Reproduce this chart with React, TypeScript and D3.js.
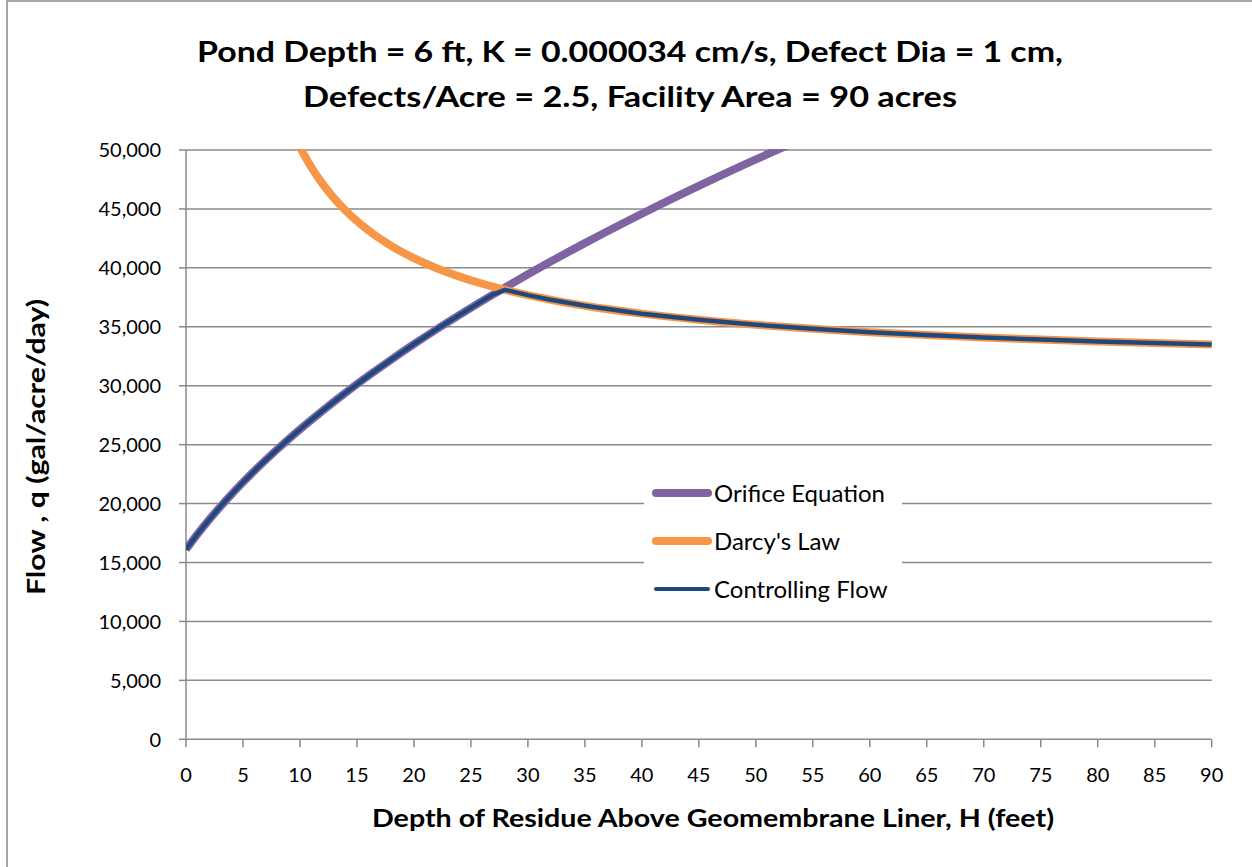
import React from "react";
import * as d3 from "d3";

const titleLines = [
  "Pond Depth = 6 ft, K = 0.000034 cm/s, Defect Dia = 1 cm,",
  "Defects/Acre = 2.5, Facility Area = 90 acres",
];
const xTitle = "Depth of Residue Above Geomembrane Liner, H (feet)";
const yTitle = "Flow , q (gal/acre/day)";

const depthH = [0, 1, 2, 3, 4, 5, 6, 7, 8, 9, 10, 11, 12, 14, 16, 18, 20, 22, 24, 26, 27, 28, 30, 32, 35, 40, 45, 50, 55, 60, 65, 70, 75, 80, 85, 90];
const orifice: (number | null)[] = [16106, 17396, 18597, 19725, 20792, 21807, 22776, 23706, 24601, 25465, 26300, 27109, 27895, 29404, 30839, 32211, 33526, 34792, 36013, 37194, 37771, 38339, 39450, 40531, 42100, 44594, 46955, 49203, 51352, null, null, null, null, null, null, null];
const darcy: (number | null)[] = [null, null, null, null, null, null, null, null, 54957, 52340, 50246, 48533, 47106, 44863, 43181, 41872, 40825, 39968, 39255, 38651, 38383, 38134, 37685, 37293, 36788, 36115, 35591, 35172, 34830, 34544, 34303, 34096, 33916, 33759, 33621, 33498];
const controlling = [16106, 17396, 18597, 19725, 20792, 21807, 22776, 23706, 24601, 25465, 26300, 27109, 27895, 29404, 30839, 32211, 33526, 34792, 36013, 37194, 37771, 38134, 37685, 37293, 36788, 36115, 35591, 35172, 34830, 34544, 34303, 34096, 33916, 33759, 33621, 33498];

const xTicks = [0, 5, 10, 15, 20, 25, 30, 35, 40, 45, 50, 55, 60, 65, 70, 75, 80, 85, 90];
const yTicks = [0, 5000, 10000, 15000, 20000, 25000, 30000, 35000, 40000, 45000, 50000];

const seriesNames = ["Orifice Equation", "Darcy's Law", "Controlling Flow"];
const seriesColors = ["#8064A2", "#F79646", "#1F497D"];

const W = 1252;
const H = 867;
const FONT = "Lato, 'Open Sans', sans-serif";

export default function App() {
  const x = d3.scaleLinear().domain([0, 90]).range([186, 1211.7]);
  const y = d3.scaleLinear().domain([0, 50000]).range([739.3, 150]);

  const mk = (vals: (number | null)[], curve: d3.CurveFactory) =>
    d3
      .line<number>()
      .defined((_, i) => vals[i] !== null)
      .x((d) => x(d))
      .y((_, i) => y(vals[i] as number))
      .curve(curve)(depthH) || "";

  const fmt = d3.format(",");
  const gridColor = "#8a8a8a";

  return (
    <svg
      width={W}
      height={H}
      style={{ position: "absolute", left: 0, top: 0, background: "#fff" }}
      fontFamily={FONT}
    >
      <defs>
        <clipPath id="plotClip">
          <rect x={x(0)} y={y(50000) - 1} width={x(90) - x(0) + 6} height={y(0) - y(50000) + 2} />
        </clipPath>
      </defs>
      <rect x={0} y={0} width={W} height={H} fill="#fff" />
      <rect x={7} y={1} width={W + 20} height={H + 20} fill="none" stroke="#8a8a8a" strokeWidth={1.5} />

      <text x={630} y={62} textAnchor="middle" fontSize={28} fontWeight="bold" fill="#000" textLength={866} lengthAdjust="spacingAndGlyphs">
        {titleLines[0]}
      </text>
      <text x={630} y={107} textAnchor="middle" fontSize={28} fontWeight="bold" fill="#000" textLength={654} lengthAdjust="spacingAndGlyphs">
        {titleLines[1]}
      </text>

      {yTicks.map((t) => (
        <g key={t}>
          {t > 0 && (
            <line x1={x(0)} x2={x(90)} y1={y(t)} y2={y(t)} stroke={gridColor} strokeWidth={1.5} />
          )}
          <line x1={x(0) - 7} x2={x(0)} y1={y(t)} y2={y(t)} stroke={gridColor} strokeWidth={1.5} />
          <text x={161} y={y(t)} dy="0.36em" textAnchor="end" fontSize={20} fill="#000">
            {fmt(t)}
          </text>
        </g>
      ))}
      <line x1={x(0)} x2={x(0)} y1={y(50000)} y2={y(0)} stroke={gridColor} strokeWidth={1.5} />
      <line x1={x(0)} x2={x(90)} y1={y(0)} y2={y(0)} stroke={gridColor} strokeWidth={1.5} />
      {xTicks.map((t) => (
        <g key={t}>
          <line x1={x(t)} x2={x(t)} y1={y(0)} y2={y(0) + 8} stroke={gridColor} strokeWidth={1.5} />
          <text x={x(t)} y={775} dy="0.36em" textAnchor="middle" fontSize={20} fill="#000">
            {t}
          </text>
        </g>
      ))}

      <text x={713} y={827} textAnchor="middle" fontSize={24} fontWeight="bold" fill="#000" textLength={682} lengthAdjust="spacingAndGlyphs">
        {xTitle}
      </text>
      <text
        transform={`translate(45, 447) rotate(-90)`}
        textAnchor="middle"
        fontSize={24}
        fontWeight="bold"
        fill="#000"
        textLength={296}
        lengthAdjust="spacingAndGlyphs"
      >
        {yTitle}
      </text>

      <rect x={644} y={472} width={258} height={135} fill="#fff" />

      <g clipPath="url(#plotClip)">
        <path d={mk(orifice, d3.curveMonotoneX)} fill="none" stroke={seriesColors[0]} strokeWidth={8} strokeLinejoin="round" />
        <path d={mk(darcy, d3.curveMonotoneX)} fill="none" stroke={seriesColors[1]} strokeWidth={8} strokeLinejoin="round" />
        <path d={mk(controlling, d3.curveLinear)} fill="none" stroke={seriesColors[2]} strokeWidth={4.5} strokeLinejoin="round" />
      </g>

      {seriesNames.map((n, i) => {
        const ly = 493 + i * 48;
        return (
          <g key={n}>
            <line
              x1={656}
              x2={708}
              y1={ly}
              y2={ly}
              stroke={seriesColors[i]}
              strokeWidth={i === 2 ? 4 : 8}
              strokeLinecap="round"
            />
            <text x={714} y={ly} dy="0.36em" fontSize={24} fill="#000">
              {n}
            </text>
          </g>
        );
      })}
    </svg>
  );
}
